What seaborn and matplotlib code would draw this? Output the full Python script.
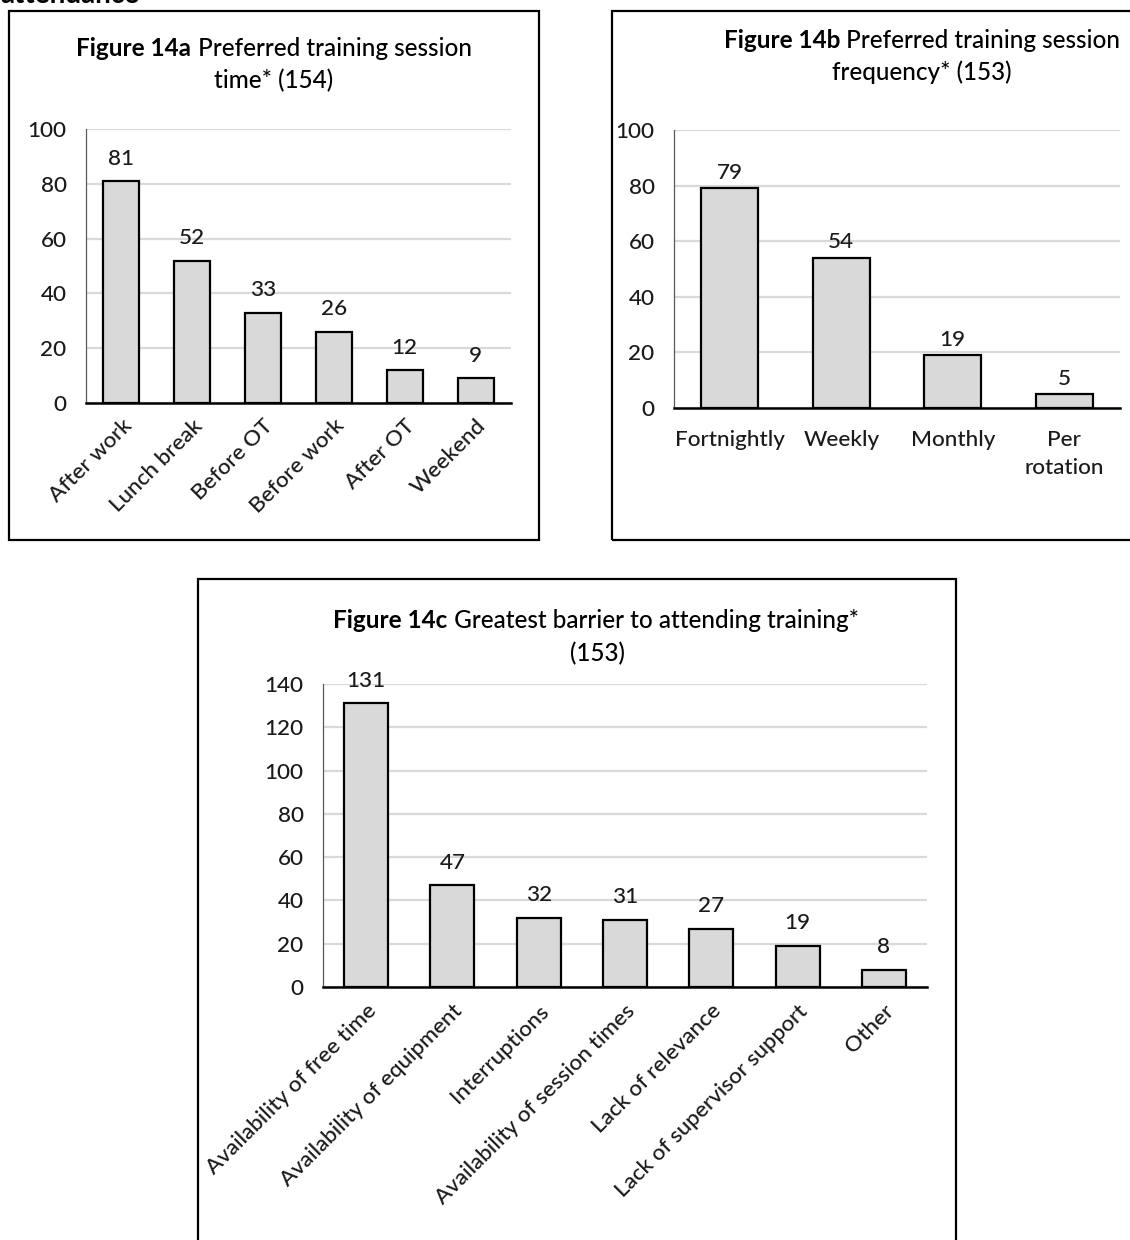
import matplotlib
matplotlib.use("Agg")
import matplotlib.pyplot as plt
from matplotlib.patches import Rectangle
import seaborn as sns
import pandas as pd

# Survey results
time_labels = ["After work", "Lunch break", "Before OT", "Before work", "After OT", "Weekend"]
time_counts = [81, 52, 33, 26, 12, 9]

freq_labels = ["Fortnightly", "Weekly", "Monthly", "Per\nrotation"]
freq_counts = [79, 54, 19, 5]

barrier_labels = ["Availability of free time", "Availability of equipment", "Interruptions",
                  "Availability of session times", "Lack of relevance",
                  "Lack of supervisor support", "Other"]
barrier_counts = [131, 47, 32, 31, 27, 19, 8]

sns.set_theme(style="white")
plt.rcParams["font.family"] = ["Lato", "DejaVu Sans"]

W, H = 1130, 1240
fig = plt.figure(figsize=(W / 100, H / 100), dpi=100)
fig.patch.set_facecolor("white")

BAR = "#d9d9d9"
GRID = "#d9d9d9"
TXT = "#1a1a1a"
FS = 16.2
TITLE_FS = 17.5


def px_rect(x0, y0, x1, y1):
    return [x0 / W, 1 - y1 / H, (x1 - x0) / W, (y1 - y0) / H]


def style_axes(ax, ymax, step, xpad, rot, bar_pad):
    ax.set_ylim(0, ymax)
    ax.set_yticks(range(0, ymax + 1, step))
    ax.yaxis.grid(True, color=GRID, linewidth=1.6)
    ax.xaxis.grid(False)
    ax.set_axisbelow(True)
    for s in ("top", "right"):
        ax.spines[s].set_visible(False)
    ax.spines["left"].set_color("#595959")
    ax.spines["left"].set_linewidth(0.9)
    ax.spines["bottom"].set_color("black")
    ax.spines["bottom"].set_linewidth(1.8)
    ax.tick_params(axis="y", length=0, pad=14, labelsize=FS, labelcolor=TXT)
    ax.tick_params(axis="x", length=0, pad=xpad, labelsize=FS, labelcolor=TXT)
    ax.set_xlabel("")
    ax.set_ylabel("")
    for lab in ax.get_xticklabels() + ax.get_yticklabels():
        lab.set_fontweight("medium")
    if rot:
        for lab in ax.get_xticklabels():
            lab.set_rotation(45)
            lab.set_ha("right")
            lab.set_rotation_mode("anchor")
    for c in ax.containers:
        ax.bar_label(c, padding=bar_pad, fontsize=FS, color=TXT, fontweight="medium")


def draw_bars(ax, labels, counts):
    df = pd.DataFrame({"cat": labels, "n": counts})
    sns.barplot(data=df, x="cat", y="n", ax=ax, color=BAR, saturation=1,
                edgecolor="black", linewidth=1.6, width=0.51)


# Panel a
ax_a = fig.add_axes(px_rect(86, 129, 511, 403))
draw_bars(ax_a, time_labels, time_counts)
style_axes(ax_a, 100, 20, 9, True, 9)

# Panel b
ax_b = fig.add_axes(px_rect(674, 130, 1120, 408))
draw_bars(ax_b, freq_labels, freq_counts)
style_axes(ax_b, 100, 20, 16, False, 4)
for lab in ax_b.get_xticklabels():
    lab.set_linespacing(1.5)

# Panel c
ax_c = fig.add_axes(px_rect(323, 684, 927, 987))
draw_bars(ax_c, barrier_labels, barrier_counts)
style_axes(ax_c, 140, 20, 10, True, 9)

# Panel frames
for (x0, y0, x1, y1) in [(9, 11, 539, 540), (612, 11, 1140, 540), (198, 579, 956, 1250)]:
    fig.add_artist(Rectangle((x0 / W, 1 - y1 / H), (x1 - x0) / W, (y1 - y0) / H,
                             transform=fig.transFigure, fill=False,
                             edgecolor="black", linewidth=1.6))

renderer = fig.canvas.get_renderer()


def two_part_title(cx, y, bold, rest, size=TITLE_FS):
    y_fig = 1 - y / H
    t1 = fig.text(0, y_fig, bold, fontsize=size, fontweight="bold", color="black",
                  va="center", ha="left")
    t2 = fig.text(0, y_fig, rest, fontsize=size, fontweight="medium", color="black",
                  va="center", ha="left")
    w1 = t1.get_window_extent(renderer).width
    w2 = t2.get_window_extent(renderer).width
    left = cx - (w1 + w2) / 2
    t1.set_position((left / W, y_fig))
    t2.set_position(((left + w1) / W, y_fig))


def centered(cx, y, s, size=TITLE_FS):
    fig.text(cx / W, 1 - y / H, s, fontsize=size, fontweight="medium", color="black",
             ha="center", va="center")


two_part_title(274, 48, "Figure 14a", " Preferred training session")
centered(274, 81, "time* (154)")
two_part_title(922, 40, "Figure 14b", " Preferred training session")
centered(922, 72, "frequency* (153)")
two_part_title(596, 621, "Figure 14c", " Greatest barrier to attending training*")
centered(597, 654, "(153)")

# Section heading running above the panels
fig.text(0.0, 1 - 3 / H, "attendance", fontsize=20, fontweight="bold",
         color="black", ha="left", va="baseline")

fig.savefig("out.png", dpi=100, facecolor="white")
